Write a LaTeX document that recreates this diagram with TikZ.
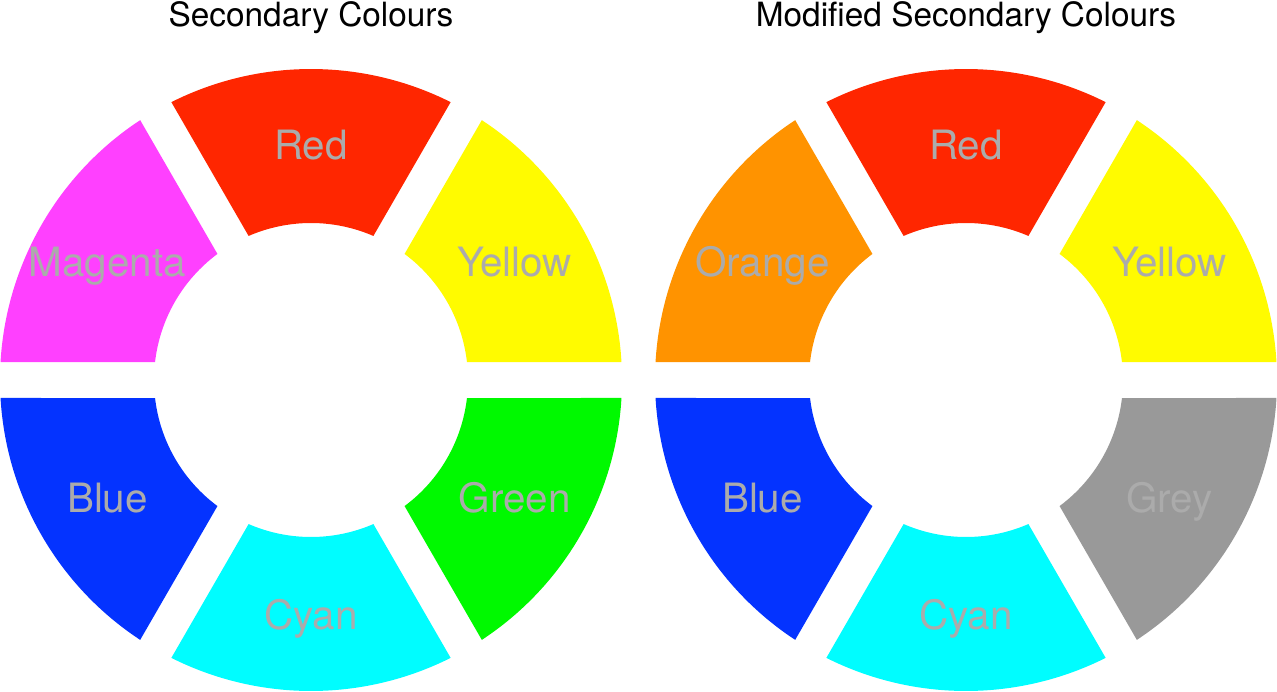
\documentclass[tikz,border=0pt]{standalone}
\usepackage{fontspec}
\setmainfont{TeX Gyre Heros}
\usetikzlibrary{positioning}

\definecolor{secred}{HTML}{FF2600}
\definecolor{secyellow}{HTML}{FFFB00}
\definecolor{secgreen}{HTML}{00F900}
\definecolor{seccyan}{HTML}{00FDFF}
\definecolor{secblue}{HTML}{0433FF}
\definecolor{secmagenta}{HTML}{FF40FF}
\definecolor{secorange}{HTML}{FF9300}
\definecolor{secgrey}{HTML}{999999}
\definecolor{labelgrey}{HTML}{ABABAB}

% ring sizes (in px)
\def\rout{311}
\def\rin{157}
\def\gap{18}

% #1 centre, #2 from angle, #3 to angle, #4 colour
\newcommand{\drawsector}[4]{%
  \fill[#4, shift={(#1)}]
    ({#2+asin(\gap/\rout)}:\rout)
    arc[start angle={#2+asin(\gap/\rout)}, end angle={#3-asin(\gap/\rout)}, radius=\rout]
    -- ({#3-asin(\gap/\rin)}:\rin)
    arc[start angle={#3-asin(\gap/\rin)}, end angle={#2+asin(\gap/\rin)}, radius=\rin]
    -- cycle;}

\begin{document}
\begin{tikzpicture}[x=0.02cm, y=0.02cm]

% Define styles
\tikzstyle{title} = [font=\fontsize{19}{22}\selectfont, text=black, inner sep=0pt, anchor=base]
\tikzstyle{colname} = [font=\fontsize{23}{26}\selectfont, text=labelgrey, inner sep=0pt, text height=16.5pt, text depth=0pt]

\useasboundingbox (0,0) rectangle (1277,691);

% Centres
\coordinate (lc) at (311,311);
\coordinate (rc) at (966,311);

% Left wheel
\drawsector{lc}{0}{60}{secyellow}
\drawsector{lc}{60}{120}{secred}
\drawsector{lc}{120}{180}{secmagenta}
\drawsector{lc}{180}{240}{secblue}
\drawsector{lc}{240}{300}{seccyan}
\drawsector{lc}{300}{360}{secgreen}

% Right wheel
\drawsector{rc}{0}{60}{secyellow}
\drawsector{rc}{60}{120}{secred}
\drawsector{rc}{120}{180}{secorange}
\drawsector{rc}{180}{240}{secblue}
\drawsector{rc}{240}{300}{seccyan}
\drawsector{rc}{300}{360}{secgrey}

% Titles
\node (ltitle) [title] at (311,664) {Secondary Colours};
\node (rtitle) [title] at (966,664) {Modified Secondary Colours};

% Labels, left
\node (lred) [colname] at ([shift={(lc)}]90:235) {Red};
\node (lyellow) [colname] at ([shift={(lc)}]30:235) {Yellow};
\node (lgreen) [colname] at ([shift={(lc)}]-30:235) {Green};
\node (lcyan) [colname] at ([shift={(lc)}]-90:235) {Cyan};
\node (lblue) [colname] at ([shift={(lc)}]210:235) {Blue};
\node (lmagenta) [colname] at ([shift={(lc)}]150:235) {Magenta};

% Labels, right
\node (rred) [colname] at ([shift={(rc)}]90:235) {Red};
\node (ryellow) [colname] at ([shift={(rc)}]30:235) {Yellow};
\node (rgrey) [colname] at ([shift={(rc)}]-30:235) {Grey};
\node (rcyan) [colname] at ([shift={(rc)}]-90:235) {Cyan};
\node (rblue) [colname] at ([shift={(rc)}]210:235) {Blue};
\node (rorange) [colname] at ([shift={(rc)}]150:235) {Orange};

\end{tikzpicture}
\end{document}
